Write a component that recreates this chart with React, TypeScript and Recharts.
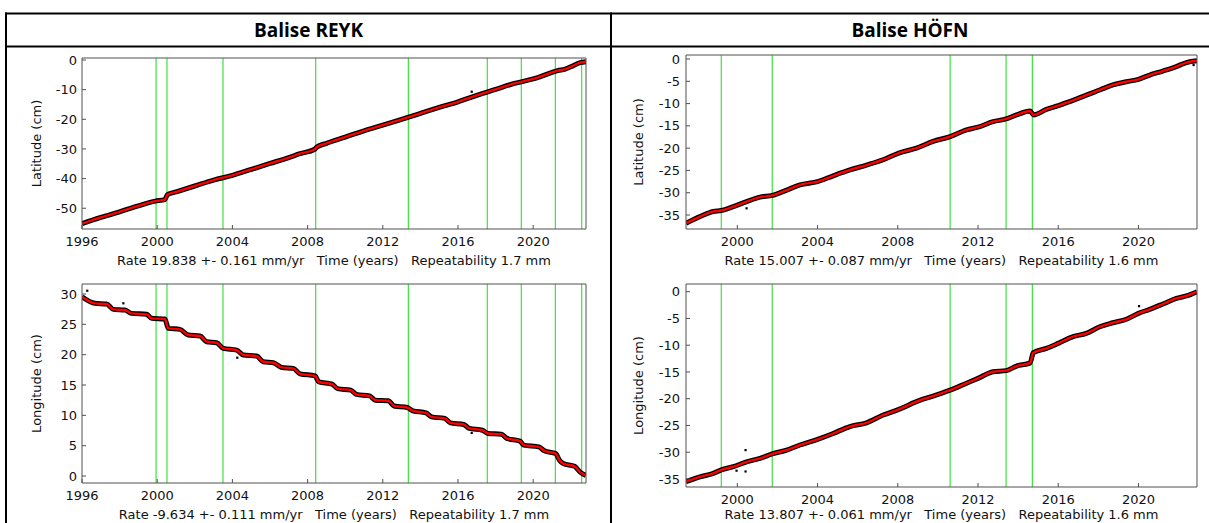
import React from 'react';
import { ComposedChart, Line, Scatter, XAxis, YAxis, ReferenceLine } from 'recharts';

// equipment / event dates (green lines)
const REYK_EVENTS = [1999.94, 2000.52, 2003.5, 2008.43, 2013.36, 2017.56, 2019.37, 2021.18, 2022.58];
const HOFN_EVENTS = [1999.2, 2001.74, 2010.61, 2013.4, 2014.71];

const REYK_X_TICKS = [1996, 2000, 2004, 2008, 2012, 2016, 2020];
const HOFN_X_TICKS = [2000, 2004, 2008, 2012, 2016, 2020];
const REYK_LAT_TICKS = [-50, -40, -30, -20, -10, 0];
const REYK_LON_TICKS = [0, 5, 10, 15, 20, 25, 30];
const HOFN_LAT_TICKS = [-35, -30, -25, -20, -15, -10, -5, 0];
const HOFN_LON_TICKS = [-35, -30, -25, -20, -15, -10, -5, 0];

// REYK latitude (cm)
const REYK_LAT_YEARS = [
  1996.0, 1997.0, 1998.0, 1999.0, 1999.9, 2000.4, 2000.55, 2001.0, 2002.0, 2003.0, 2004.0, 2005.0,
  2006.0, 2007.0, 2007.6, 2008.38, 2008.48, 2009.0, 2010.0, 2011.0, 2012.0, 2013.0, 2014.0, 2015.0,
  2016.0, 2017.0, 2018.0, 2019.0, 2020.0, 2021.0, 2021.3, 2021.7, 2022.0, 2022.5, 2022.8,
];
const REYK_LAT_CM = [
  -55.2, -53.1, -51.2, -49.2, -47.6, -47.1, -45.4, -44.5, -42.5, -40.5, -38.9, -36.9,
  -34.9, -32.9, -31.6, -30.1, -29.4, -28.1, -26.0, -23.9, -22.0, -20.0, -18.0, -16.0,
  -14.1, -11.9, -9.9, -7.9, -6.4, -4.2, -3.6, -3.1, -2.3, -0.9, -0.6,
];

// REYK longitude (cm)
const REYK_LON_YEARS = [
  1996.0, 1996.69, 1997.31, 1997.67, 1998.29, 1998.64, 1999.44, 1999.71, 2000.41, 2000.59,
  2001.21, 2001.65, 2002.28, 2002.63, 2003.16, 2003.52, 2004.23, 2004.58, 2005.29, 2005.64,
  2006.18, 2006.62, 2007.24, 2007.6, 2008.4, 2008.6, 2009.3, 2009.6, 2010.3, 2010.6,
  2011.3, 2011.6, 2012.3, 2012.6, 2013.3, 2013.6, 2014.3, 2014.6, 2015.3, 2015.6,
  2016.3, 2016.6, 2017.3, 2017.6, 2018.3, 2018.6, 2019.3, 2019.5, 2020.3, 2020.6,
  2021.2, 2021.4, 2021.6, 2022.2, 2022.5, 2022.8,
];
const REYK_LON_CM = [
  29.55, 28.46, 28.35, 27.47, 27.36, 26.81, 26.65, 25.99, 25.88, 24.34,
  24.17, 23.24, 23.07, 22.14, 21.97, 21.04, 20.76, 19.94, 19.77, 18.84,
  18.67, 17.9, 17.74, 16.85, 16.5, 15.5, 15.15, 14.4, 14.15, 13.45,
  13.2, 12.5, 12.4, 11.55, 11.3, 10.75, 10.4, 9.75, 9.5, 8.75,
  8.5, 7.85, 7.55, 7.0, 6.9, 6.2, 5.75, 5.1, 4.8, 4.15,
  3.7, 2.6, 2.05, 1.6, 0.65, 0.1,
];

// HÖFN (both components sampled at the same dates)
const HOFN_YEARS = [
  1997.44, 1998.14, 1998.8, 1999.2, 1999.8, 2000.46, 2001.13, 2001.74, 2002.46, 2003.12,
  2004.0, 2004.78, 2005.61, 2006.44, 2007.27, 2008.05, 2008.93, 2009.76, 2010.61, 2011.43,
  2012.0, 2012.75, 2013.4, 2013.92, 2014.6, 2014.76, 2015.41, 2016.0, 2016.74, 2017.4,
  2018.07, 2018.73, 2019.4, 2020.0, 2020.56, 2021.22, 2021.89, 2022.39, 2022.92,
];
const HOFN_LAT_CM = [
  -36.85, -35.35, -34.2, -34.0, -33.1, -32.0, -31.0, -30.6, -29.4, -28.25,
  -27.5, -26.2, -24.9, -23.8, -22.6, -21.1, -20.0, -18.5, -17.4, -15.9,
  -15.3, -14.05, -13.45, -12.55, -11.65, -12.55, -11.3, -10.45, -9.3, -8.1,
  -6.95, -5.8, -5.1, -4.55, -3.6, -2.7, -1.7, -0.8, -0.4,
];
const HOFN_LON_CM = [
  -35.5, -34.6, -33.95, -33.3, -32.7, -31.8, -31.15, -30.3, -29.6, -28.65,
  -27.6, -26.5, -25.2, -24.5, -23.05, -22.0, -20.55, -19.5, -18.4, -17.1,
  -16.2, -14.95, -14.75, -13.9, -13.3, -11.4, -10.6, -9.65, -8.4, -7.8,
  -6.55, -5.8, -5.15, -4.05, -3.3, -2.3, -1.25, -0.8, 0.0,
];

// stray observations off the band
const REYK_LAT_OUT_YEARS = [2016.73];
const REYK_LAT_OUT_CM = [-10.7];
const REYK_LON_OUT_YEARS = [1996.28, 1998.2, 2004.26, 2016.73];
const REYK_LON_OUT_CM = [30.54, 28.47, 19.5, 7.1];
const HOFN_LAT_OUT_YEARS = [2000.46, 2022.75];
const HOFN_LAT_OUT_CM = [-33.5, -1.35];
const HOFN_LON_OUT_YEARS = [2000.41, 1999.96, 2000.41, 2020.03];
const HOFN_LON_OUT_CM = [-29.6, -33.45, -33.6, -2.7];

type Pt = { t: number; v: number };
const zip = (ts: number[], vs: number[]): Pt[] => ts.map((t, i) => ({ t, v: vs[i] }));

const AXIS_FONT = { fontFamily: '"DejaVu Sans", sans-serif', fontSize: 13, fill: '#111' };
const FRAME = '#505050';
const TEXT_FONT = '"DejaVu Sans", sans-serif';

interface PanelProps {
  left: number;
  top: number;
  width: number;
  height: number;
  xDomain: [number, number];
  yDomain: [number, number];
  xTicks: number[];
  yTicks: number[];
  events: number[];
  series: Pt[];
  outliers: Pt[];
  tickGap: number;
}

const Dot2 = (props: any) => (
  <rect x={props.cx - 1.1} y={props.cy - 1.1} width={2.2} height={2.2} fill="#000" />
);

function Panel(p: PanelProps) {
  const padL = 80;
  const padT = 10;
  const padR = 10;
  const axisH = 40;
  const W = padL + p.width + 1 + padR;
  const H = padT + 1 + p.height + axisH;
  return (
    <div style={{ position: 'absolute', left: p.left - padL, top: p.top - padT - 1 }}>
      <ComposedChart width={W} height={H} margin={{ top: padT, right: padR, bottom: 0, left: 0 }}>
        <XAxis
          xAxisId="b"
          dataKey="t"
          type="number"
          orientation="bottom"
          domain={p.xDomain}
          allowDataOverflow
          ticks={p.xTicks}
          interval={0}
          height={axisH}
          tickSize={-4}
          tickMargin={11.5}
          stroke={FRAME}
          tick={AXIS_FONT}
        />
        <XAxis
          xAxisId="t"
          type="number"
          orientation="top"
          domain={p.xDomain}
          allowDataOverflow
          ticks={p.xTicks}
          interval={0}
          height={1}
          tickSize={-4}
          tick={false}
          stroke={FRAME}
        />
        <YAxis
          yAxisId="l"
          dataKey="v"
          type="number"
          domain={p.yDomain}
          allowDataOverflow
          ticks={p.yTicks}
          interval={0}
          width={padL}
          tickSize={-4}
          tickMargin={p.tickGap}
          stroke={FRAME}
          tick={AXIS_FONT}
        />
        <YAxis
          yAxisId="r"
          orientation="right"
          type="number"
          domain={p.yDomain}
          allowDataOverflow
          ticks={p.yTicks}
          interval={0}
          width={1}
          tickSize={-4}
          tick={false}
          stroke={FRAME}
        />
        {p.events.map((e) => (
          <ReferenceLine key={e} x={e} xAxisId="b" yAxisId="l" stroke="#3ee23e" strokeWidth={1.2} />
        ))}
        <Line
          data={p.series}
          xAxisId="b"
          yAxisId="l"
          dataKey="v"
          type="monotone"
          stroke="#000"
          strokeWidth={5}
          dot={false}
          isAnimationActive={false}
        />
        <Scatter
          data={p.outliers}
          xAxisId="b"
          yAxisId="l"
          dataKey="v"
          fill="#000"
          shape={Dot2}
          isAnimationActive={false}
        />
        <Line
          data={p.series}
          xAxisId="b"
          yAxisId="l"
          dataKey="v"
          type="monotone"
          stroke="#ff0000"
          strokeWidth={2.4}
          dot={false}
          isAnimationActive={false}
        />
      </ComposedChart>
    </div>
  );
}

const panels = [
  {
    left: 82, top: 58, width: 504, height: 171,
    xDomain: [1996, 2022.81] as [number, number], yDomain: [-57, 0.67] as [number, number],
    xTicks: REYK_X_TICKS, yTicks: REYK_LAT_TICKS, events: REYK_EVENTS,
    series: zip(REYK_LAT_YEARS, REYK_LAT_CM), outliers: zip(REYK_LAT_OUT_YEARS, REYK_LAT_OUT_CM),
    tickGap: 9, title: 'Latitude (cm)', titleX: 36.5,
    rate: 'Rate 19.838 +- 0.161 mm/yr   Time (years)   Repeatability 1.7 mm',
  },
  {
    left: 82, top: 284, width: 504, height: 199,
    xDomain: [1996, 2022.81] as [number, number], yDomain: [-1.15, 31.65] as [number, number],
    xTicks: REYK_X_TICKS, yTicks: REYK_LON_TICKS, events: REYK_EVENTS,
    series: zip(REYK_LON_YEARS, REYK_LON_CM), outliers: zip(REYK_LON_OUT_YEARS, REYK_LON_OUT_CM),
    tickGap: 9, title: 'Longitude (cm)', titleX: 36.5,
    rate: 'Rate -9.634 +- 0.111 mm/yr   Time (years)   Repeatability 1.7 mm',
  },
  {
    left: 686, top: 55, width: 511, height: 174,
    xDomain: [1997.44, 2022.92] as [number, number], yDomain: [-38.14, 0.9] as [number, number],
    xTicks: HOFN_X_TICKS, yTicks: HOFN_LAT_TICKS, events: HOFN_EVENTS,
    series: zip(HOFN_YEARS, HOFN_LAT_CM), outliers: zip(HOFN_LAT_OUT_YEARS, HOFN_LAT_OUT_CM),
    tickGap: 10, title: 'Latitude (cm)', titleX: 638,
    rate: 'Rate 15.007 +- 0.087 mm/yr   Time (years)   Repeatability 1.6 mm',
  },
  {
    left: 686, top: 284, width: 511, height: 203,
    xDomain: [1997.44, 2022.92] as [number, number], yDomain: [-36.5, 1.44] as [number, number],
    xTicks: HOFN_X_TICKS, yTicks: HOFN_LON_TICKS, events: HOFN_EVENTS,
    series: zip(HOFN_YEARS, HOFN_LON_CM), outliers: zip(HOFN_LON_OUT_YEARS, HOFN_LON_OUT_CM),
    tickGap: 10, title: 'Longitude (cm)', titleX: 638,
    rate: 'Rate 13.807 +- 0.061 mm/yr   Time (years)   Repeatability 1.6 mm',
  },
];

export default function App() {
  return (
    <div
      style={{
        position: 'absolute',
        left: 0,
        top: 0,
        width: 1209,
        height: 523,
        overflow: 'hidden',
        background: '#fff',
      }}
    >
      {panels.map((p, i) => (
        <Panel key={i} {...p} />
      ))}
      <svg
        width={1209}
        height={523}
        style={{ position: 'absolute', left: 0, top: 0, pointerEvents: 'none' }}
      >
        {/* table frame */}
        <line x1={5} y1={13.5} x2={1209} y2={13.5} stroke="#000" strokeWidth={2} />
        <line x1={5} y1={46.5} x2={1209} y2={46.5} stroke="#000" strokeWidth={2} />
        <line x1={6} y1={12.5} x2={6} y2={523} stroke="#000" strokeWidth={2} />
        <line x1={611} y1={12.5} x2={611} y2={523} stroke="#000" strokeWidth={2} />
        <text x={308.5} y={37} textAnchor="middle" fontFamily='"Open Sans", sans-serif' fontWeight={700} fontSize={19}>
          Balise REYK
        </text>
        <text x={910} y={37} textAnchor="middle" fontFamily='"Open Sans", sans-serif' fontWeight={700} fontSize={19}>
          Balise HÖFN
        </text>
        {panels.map((p, i) => (
          <g key={i}>
            <text
              transform={`translate(${p.titleX}, ${p.top + p.height / 2}) rotate(-90)`}
              textAnchor="middle"
              dominantBaseline="central"
              fontFamily={TEXT_FONT}
              fontSize={13}
              fill="#111"
            >
              {p.title}
            </text>
            <text
              x={p.left + p.width / 2}
              y={Math.min(p.top + p.height + 35.5, 519)}
              textAnchor="middle"
              fontFamily={TEXT_FONT}
              fontSize={13}
              fill="#111"
              style={{ whiteSpace: 'pre' }}
            >
              {p.rate}
            </text>
          </g>
        ))}
      </svg>
    </div>
  );
}
